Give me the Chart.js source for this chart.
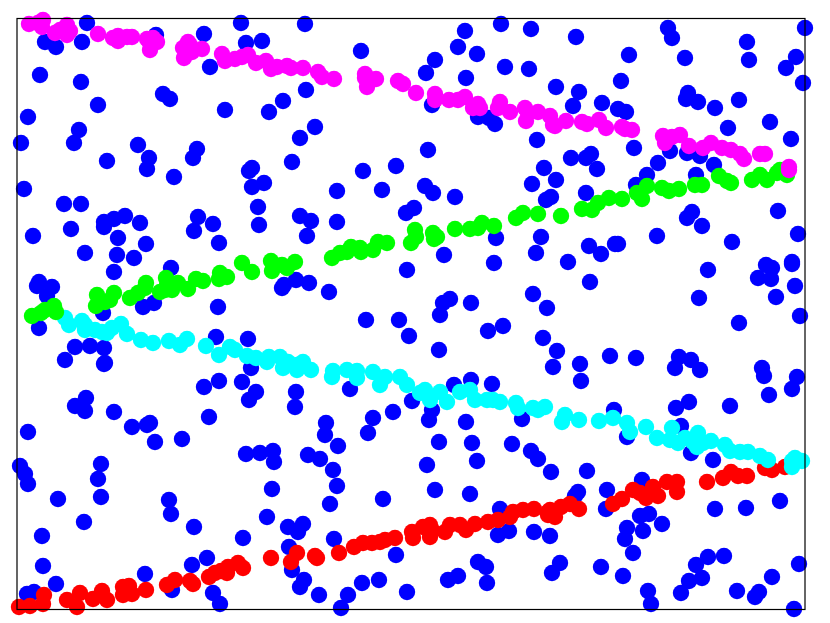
<!DOCTYPE html>
<html><head><meta charset="utf-8">
<style>html,body{margin:0;padding:0;background:#fff}canvas{display:block}</style>
<script src="https://cdn.jsdelivr.net/npm/chart.js@4"></script></head>
<body><canvas id="c" width="830" height="623"></canvas>
<script>
const blue=[[87,23],[45,42],[56,47],[82,42],[156,35],[204,34],[241,23],[246,43],[262,41],[210,67],[40,75],[81,82],[163,94],[170,99],[98,105],[225,110],[269,112],[283,101],[28,117],[79,130],[74,143],[21,143],[138,145],[197,149],[193,158],[149,158],[147,169],[107,161],[174,177],[252,168],[249,171],[292,162],[264,183],[252,187],[24,189],[64,204],[81,204],[258,207],
[125,216],[114,219],[104,222],[104,227],[140,223],[198,217],[213,224],[194,231],[259,225],[71,229],[33,236],[118,238],[146,244],[219,243],[85,253],[117,255],[134,258],[171,268],[114,272],[39,282],[37,286],[52,287],[47,296],[284,285],[282,288],[143,307],[154,303],[218,307],[103,313],[39,328],[75,347],[90,346],[104,348],[65,360],[104,364],[105,363],[216,337],[248,339],[251,368],[204,387],[219,381],[242,382],[256,392],[249,400],[86,398],[75,406],[85,411],[114,412],[209,417],
[305,24],[361,51],[465,31],[501,24],[531,29],[458,47],[477,54],[435,60],[426,73],[505,67],[529,69],[466,78],[556,87],[306,90],[432,105],[478,117],[489,118],[495,124],[315,127],[300,138],[537,140],[428,150],[396,166],[363,171],[544,168],[556,180],[532,184],[337,191],[382,190],[425,186],[433,193],[455,197],[551,197],[546,200],[414,208],[406,213],
[300,216],[311,221],[307,236],[337,222],[496,238],[444,255],[407,270],[541,237],[536,253],[494,263],[296,280],[309,283],[329,292],[450,299],[443,303],[471,303],[440,315],[533,294],[547,308],[366,320],[399,320],[409,336],[488,331],[503,326],[543,338],[439,350],[557,351],[553,367],[296,392],[295,407],[350,389],[412,401],[454,385],[471,380],[492,384],[393,412],[373,418],[432,410],
[576,37],[668,28],[672,38],[805,28],[747,42],[749,60],[629,55],[685,58],[796,57],[786,68],[803,83],[621,81],[579,92],[573,106],[602,103],[618,109],[626,112],[688,93],[686,99],[698,102],[715,108],[739,100],[728,128],[770,122],[791,139],[634,148],[670,151],[687,153],[700,156],[714,165],[591,154],[586,158],[571,158],[597,169],[658,163],[647,175],[636,185],[696,175],[586,193],[778,211],
[692,212],[687,218],[702,226],[657,236],[732,242],[798,234],[589,246],[601,254],[615,244],[618,244],[568,262],[590,282],[708,270],[699,298],[766,265],[772,268],[758,278],[771,279],[792,262],[792,264],[795,286],[776,297],[800,316],[739,323],[580,364],[581,381],[610,356],[636,358],[679,357],[691,360],[675,368],[700,370],[762,368],[764,376],[797,377],[792,389],[769,395],[614,410],[676,408],[689,402],[730,406],
[28,432],[132,427],[147,425],[150,423],[155,442],[182,439],[246,454],[260,453],[273,451],[274,462],[101,464],[20,466],[25,474],[28,484],[98,479],[101,497],[58,499],[272,489],[169,500],[171,514],[267,517],[84,522],[194,527],[288,527],[42,536],[243,538],[289,547],[43,566],[207,558],[192,565],[145,574],[56,584],[292,570],[27,594],[34,592],[172,590],[213,593],[220,604],
[326,423],[325,435],[338,446],[308,455],[320,459],[333,470],[337,486],[330,504],[429,420],[466,422],[439,442],[472,443],[512,444],[477,461],[427,465],[531,451],[538,459],[551,472],[522,419],[435,490],[470,494],[383,499],[500,509],[509,531],[498,535],[534,532],[550,536],[303,524],[298,532],[334,539],[368,433],[396,555],[304,580],[300,587],[319,595],[348,595],[341,608],[362,583],[379,580],[407,592],[478,562],[486,567],[487,583],[448,580],[458,576],[552,573],[560,563],
[587,471],[627,437],[681,426],[691,453],[713,460],[642,480],[607,490],[578,492],[575,496],[606,509],[715,509],[746,508],[780,501],[649,514],[640,516],[662,524],[627,528],[643,531],[625,539],[633,553],[724,556],[708,557],[696,565],[799,564],[601,567],[623,576],[702,578],[689,581],[681,593],[772,577],[737,591],[759,592],[755,597],[648,591],[651,604],[794,609]];
const red=[[19,607],[30,606],[43,604],[44,595],[67,600],[77,607],[80,593],[93,599],[102,591],[107,600],[123,595],[123,587],[129,586],[132,594],[146,590],[167,585],[175,580],[190,581],[193,584],[209,577],[215,573],[221,571],[227,573],[228,567],[238,563],[243,568],[271,558],[291,562],[297,553],[315,556],[317,558],[339,553],[354,547],[363,543],[372,543],[380,542],[385,540],[395,538],[412,532],[413,538],[423,527],[430,525],[430,537],[432,530],[445,532],[450,525],[460,525],[466,530],[475,524],[488,522],[498,520],[510,517],[513,512],[523,510],[534,509],[548,512],[548,515],[550,510],[555,517],[561,507],[570,504],[579,509],[613,504],[622,499],[633,490],[640,493],[646,498],[653,487],[658,496],[667,482],[677,482],[677,492],[707,482],[723,478],[731,472],[738,476],[747,476],[765,468],[772,470],[785,467]];
const cyan=[[65,318],[69,325],[82,321],[85,325],[85,330],[95,330],[102,332],[107,333],[112,328],[121,324],[127,334],[141,340],[153,343],[169,341],[180,345],[187,339],[206,346],[219,355],[230,347],[235,350],[247,356],[256,358],[267,362],[269,357],[280,357],[283,368],[288,362],[297,365],[303,362],[297,370],[311,370],[332,377],[333,371],[347,370],[357,371],[357,378],[373,372],[380,385],[385,377],[400,377],[407,385],[420,393],[425,390],[430,400],[440,392],[447,402],[460,392],[470,390],[475,400],[487,400],[493,400],[500,402],[516,403],[518,408],[533,408],[545,407],[538,410],[562,422],[565,415],[579,420],[599,421],[613,418],[627,423],[630,432],[646,427],[657,438],[672,428],[670,440],[678,443],[685,438],[697,447],[698,433],[693,442],[711,441],[703,443],[725,445],[730,451],[740,452],[748,452],[760,456],[768,460],[792,461],[792,467],[802,461],[795,458]];
const green=[[32,316],[41,313],[45,310],[54,306],[56,312],[96,306],[97,295],[105,302],[110,300],[114,293],[130,298],[138,293],[146,283],[145,288],[160,292],[165,290],[166,278],[167,285],[172,290],[178,283],[188,289],[196,279],[203,281],[220,273],[219,279],[227,277],[242,263],[252,272],[271,261],[272,271],[282,265],[287,268],[295,262],[332,258],[340,253],[347,252],[351,247],[360,248],[361,252],[373,250],[378,242],[387,243],[415,230],[416,237],[411,243],[433,233],[434,239],[437,237],[455,229],[470,229],[478,228],[482,223],[494,226],[516,218],[523,213],[538,214],[561,216],[582,209],[592,210],[598,203],[609,198],[622,199],[637,193],[642,199],[647,186],[662,188],[669,191],[679,189],[695,185],[702,185],[719,176],[727,181],[731,183],[752,180],[760,175],[767,180],[777,173],[780,170],[787,175]];
const magenta=[[29,24],[38,23],[43,20],[42,27],[55,33],[60,30],[67,25],[67,35],[70,31],[98,34],[113,38],[118,41],[118,36],[127,37],[132,37],[147,39],[157,42],[150,50],[150,43],[153,38],[188,42],[183,48],[184,58],[192,52],[202,49],[190,45],[222,54],[225,61],[235,59],[242,57],[248,55],[256,63],[266,61],[271,69],[277,67],[287,66],[291,68],[303,68],[318,72],[322,77],[334,79],[365,74],[365,78],[367,87],[376,79],[398,81],[403,84],[416,93],[435,94],[435,100],[449,100],[458,100],[465,97],[478,104],[473,108],[480,108],[500,102],[498,108],[510,112],[525,108],[526,121],[528,113],[538,112],[550,116],[555,126],[553,125],[566,121],[582,122],[587,124],[599,120],[606,128],[622,127],[625,129],[632,130],[663,136],[665,143],[672,137],[680,135],[689,146],[703,148],[711,143],[722,148],[731,150],[740,154],[744,159],[760,154],[765,154],[789,167],[789,170]];

const series=[[magenta,'#ff00ff',1],[green,'#00ff00',2],[cyan,'#00ffff',3],[red,'#ff0000',4],[blue,'#0000ff',5]];
const frame={id:'frame',afterDatasetsDraw(ch){const a=ch.chartArea,g=ch.ctx;g.save();g.strokeStyle='#000';g.lineWidth=1.2;g.strokeRect(a.left,a.top,a.right-a.left,a.bottom-a.top);g.restore();}};
new Chart(document.getElementById('c'),{type:'scatter',
 data:{datasets:series.map(([d,col,o])=>({data:d,order:o,backgroundColor:col,borderColor:col,borderWidth:0,pointRadius:8.2,clip:false}))},
 options:{responsive:false,animation:false,events:[],layout:{padding:{left:17,top:18.5,right:25,bottom:13.5}},
  plugins:{legend:{display:false},tooltip:{enabled:false},title:{display:false}},
  scales:{x:{type:'linear',min:17,max:805,display:false},y:{type:'linear',min:18.5,max:609.5,reverse:true,display:false}}},
 plugins:[frame]});
</script></body></html>
